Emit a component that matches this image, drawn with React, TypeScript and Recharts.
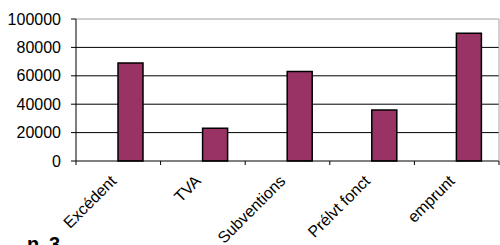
import { BarChart, Bar, XAxis, YAxis, CartesianGrid, ReferenceLine } from 'recharts';

const categories = ['Excédent', 'TVA', 'Subventions', 'Prélvt fonct', 'emprunt'];
const montants = [69000, 23000, 63000, 36000, 90000];
const yTicks = [0, 20000, 40000, 60000, 80000, 100000];

const data = categories.map((name, i) => ({ name, montant: montants[i] }));

const W = 500;
const H = 245;
const LEFT = 76;
const RIGHT = 1;
const band = (W - LEFT - RIGHT) / categories.length;
const font = '"Liberation Sans", Arial, sans-serif';

function CategoryTick(props: any) {
    const { x, y, payload, index } = props;
    const last = index === categories.length - 1;
    const tx = x - 1;
    const ty = y + 21;
    return (
        <g>
            <line x1={x - band / 2} y1={y} x2={x - band / 2} y2={y + 4} stroke="#000" />
            {last && <line x1={x + band / 2} y1={y} x2={x + band / 2} y2={y + 4} stroke="#000" />}
            <text
                x={tx}
                y={ty}
                transform={`rotate(-45, ${tx}, ${ty})`}
                textAnchor="end"
                fontSize={16}
                fontFamily={font}
                fill="#000"
            >
                {payload.value}
            </text>
        </g>
    );
}

export default function App() {
    return (
        <div style={{ position: 'absolute', left: 0, top: 0, width: W, height: H, background: '#fff' }}>
            <BarChart
                width={W}
                height={H}
                data={data}
                margin={{ top: 19, right: 0, left: 0, bottom: 0 }}
                barGap={0}
            >
                <CartesianGrid
                    vertical={false}
                    horizontalValues={[20000, 40000, 60000, 80000]}
                    stroke="#000"
                />
                <XAxis
                    dataKey="name"
                    height={84}
                    interval={0}
                    tickLine={false}
                    tickSize={0}
                    tickMargin={0}
                    axisLine={{ stroke: '#000' }}
                    tick={<CategoryTick />}
                />
                <YAxis
                    width={LEFT}
                    domain={[0, 100000]}
                    ticks={yTicks}
                    interval={0}
                    tickSize={5}
                    tickMargin={10}
                    axisLine={{ stroke: '#000' }}
                    tickLine={{ stroke: '#000' }}
                    tick={{ fontSize: 16, fontFamily: font, fill: '#000' }}
                />
                <YAxis
                    yAxisId="border"
                    orientation="right"
                    width={RIGHT}
                    tick={false}
                    tickLine={false}
                    axisLine={{ stroke: '#a0a0a0' }}
                />
                <ReferenceLine y={100000} stroke="#a0a0a0" />
                <Bar dataKey="vide" barSize={25} isAnimationActive={false} />
                <Bar
                    dataKey="montant"
                    barSize={25}
                    fill="#993366"
                    stroke="#000"
                    strokeWidth={1.5}
                    isAnimationActive={false}
                />
            </BarChart>
            <svg
                width={W}
                height={H}
                style={{ position: 'absolute', left: 0, top: 0, pointerEvents: 'none' }}
            >
                <text y={251} fontSize={20} fontWeight="bold" fontFamily={font} fill="#000">
                    <tspan x={27}>n</tspan>
                    <tspan x={49}>3</tspan>
                </text>
            </svg>
        </div>
    );
}
